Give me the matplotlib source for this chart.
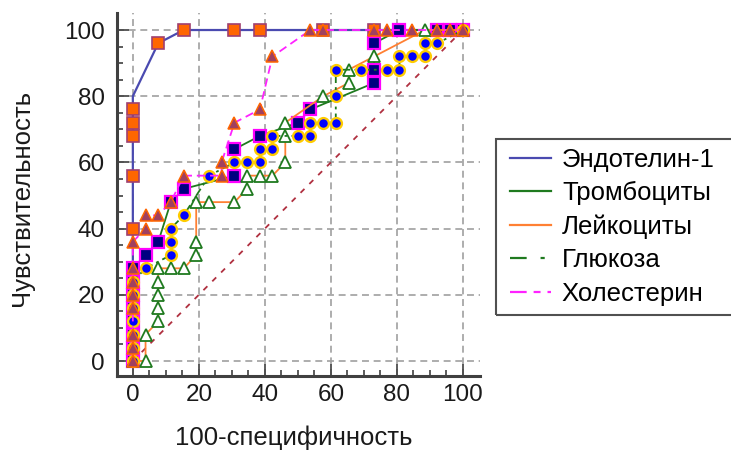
import matplotlib
matplotlib.use("Agg")
import matplotlib.pyplot as plt
from matplotlib.lines import Line2D
from matplotlib.patches import Rectangle
from matplotlib.ticker import FixedLocator

plt.rcParams['font.family'] = ['Liberation Sans', 'DejaVu Sans']
plt.rcParams['lines.scale_dashes'] = False

# ---------------- data (100-specificity, sensitivity) ----------------
series_names = ["Эндотелин-1", "Тромбоциты", "Лейкоциты", "Глюкоза", "Холестерин"]

endo_x = [0, 0, 0, 0, 0, 0, 0, 0, 0, 0, 0, 0, 0, 0, 7.7, 15.4, 30.8, 38.5, 57.7, 73.1, 100]
endo_y = [0, 4, 8, 12, 16, 20, 24, 28, 40, 56, 68, 72, 76, 80, 96, 100, 100, 100, 100, 100, 100]
endo_unmarked = [13]

tromb_x = [0, 0, 0, 0, 0, 0, 0, 0, 3.85, 7.7, 11.5, 15.4, 30.8, 30.8, 38.5, 50, 53.8,
           73.1, 73.1, 73.1, 80.8, 92.3, 96.2, 100]
tromb_y = [0, 4, 8, 12, 16, 20, 24, 28, 32, 36, 48, 52, 56, 64, 68, 72, 76,
           84, 88, 96, 100, 100, 100, 100]

leuk_x = [0, 3.85, 3.85, 7.7, 7.7, 7.7, 7.7, 7.7, 11.5, 15.4, 19.2, 19.2, 19.2, 23.1, 30.8,
          34.6, 34.6, 38.5, 42.3, 46.2, 46.2, 46.2, 57.7, 65.4, 65.4, 73.1, 88.5, 100]
leuk_y = [0, 0, 8, 12, 16, 20, 24, 28, 28, 28, 32, 36, 48, 48, 48,
          52, 56, 56, 56, 60, 68, 72, 80, 84, 88, 92, 100, 100]

gluc_x = [0, 0, 0, 0, 0, 0, 0, 3.85, 11.5, 11.5, 11.5, 15.4, 23.1, 30.8, 34.6, 38.5, 38.5,
          42.3, 42.3, 50, 53.8, 53.8, 57.7, 61.5, 61.5, 61.5, 69.2, 76.9, 80.8, 80.8,
          84.6, 88.5, 88.5, 92.3, 100]
gluc_y = [0, 4, 8, 12, 16, 20, 24, 28, 32, 36, 40, 44, 56, 60, 60, 60, 64,
          64, 68, 68, 68, 72, 72, 72, 80, 88, 88, 88, 88, 92,
          92, 92, 96, 96, 100]

chol_x = [0, 0, 0, 0, 0, 0, 0, 0, 3.85, 3.85, 7.7, 11.5, 15.4, 26.9, 26.9, 30.8, 38.5, 42.3,
          53.8, 57.7, 73.1, 76.9, 84.6, 92.3, 96.2, 100]
chol_y = [0, 4, 8, 16, 20, 24, 28, 36, 40, 44, 44, 48, 56, 56, 60, 72, 76, 92,
          100, 100, 100, 100, 100, 100, 100, 100]

diag_x = [0, 100]
diag_y = [0, 100]

x_ticks = [0, 20, 40, 60, 80, 100]
y_ticks = [0, 20, 40, 60, 80, 100]

# ---------------- figure ----------------
W, H = 731, 454
fig = plt.figure(figsize=(W / 100, H / 100), dpi=100)
ax = fig.add_axes([117 / W, 1 - 376 / H, (480 - 117) / W, (376 - 13) / H])
ax.set_xlim(-4.8, 105.2)
ax.set_ylim(-4.53, 105.14)

for s in ['top', 'right']:
    ax.spines[s].set_visible(False)
for s in ['left', 'bottom']:
    ax.spines[s].set_color('#404040')
    ax.spines[s].set_linewidth(2.2)

ax.set_xticks(x_ticks)
ax.set_yticks(y_ticks)
minor = [v for v in range(0, 101, 5) if v % 20]
ax.xaxis.set_minor_locator(FixedLocator(minor))
ax.yaxis.set_minor_locator(FixedLocator(minor))
ax.tick_params(which='major', direction='in', length=8.5, width=1.2, color='#404040',
               labelsize=17.5, labelcolor='#1a1a1a')
ax.tick_params(axis='x', which='major', pad=6)
ax.tick_params(axis='y', which='major', pad=9)
ax.tick_params(which='minor', direction='in', length=4.5, width=1.2, color='#404040')

ax.grid(True, which='major', color='#a0a0a0', linewidth=1.2, linestyle=(0, (5, 3.4)))
ax.set_axisbelow(True)

# reference diagonal
ax.plot(diag_x, diag_y, color='#b03040', lw=1.3, linestyle=(0, (4, 5)), zorder=2)

endo_marks = [i for i in range(len(endo_x)) if i not in endo_unmarked]
ax.plot(endo_x, endo_y, color='#4a4ab0', lw=1.6, marker='s', markersize=8.5,
        markerfacecolor='#ff6600', markeredgecolor='#a04070', markeredgewidth=1.2,
        markevery=endo_marks, zorder=3)
ax.plot(tromb_x, tromb_y, color='#1f7a1f', lw=1.3, marker='s', markersize=8,
        markerfacecolor='#000080', markeredgecolor='#ff00ff', markeredgewidth=1.6,
        zorder=4)
ax.plot(leuk_x, leuk_y, color='#ff8033', lw=1.3, marker='^', markersize=9,
        markerfacecolor='white', markeredgecolor='#1f7a1f', markeredgewidth=1.3,
        zorder=5)
ax.plot(gluc_x, gluc_y, color='#1f7a1f', lw=1.3, linestyle=(0, (6, 3, 2, 3)),
        marker='o', markersize=7.8, markerfacecolor='#0000ff', markeredgecolor='#ffcc00',
        markeredgewidth=1.7, zorder=6)
ax.plot(chol_x, chol_y, color='#ff22ff', lw=1.3, linestyle=(0, (6, 3.5)),
        marker='^', markersize=9, markerfacecolor='#a04060', markeredgecolor='#ff6600',
        markeredgewidth=1.1, zorder=7)

ax.set_xlabel("100-специфичность", fontsize=18.5, color='#1a1a1a')
ax.set_ylabel("Чувствительность", fontsize=18.5, color='#1a1a1a')
ax.xaxis.set_label_coords((294 - 117) / 363, (376 - 426) / 363)
ax.yaxis.set_label_coords((33.5 - 117) / 363, 0.49)

# legend (lines only)
handles = [
    Line2D([], [], color='#4a4ab0', lw=1.6),
    Line2D([], [], color='#1f7a1f', lw=1.6),
    Line2D([], [], color='#ff8033', lw=1.6),
    Line2D([], [], color='#1f7a1f', lw=1.6, linestyle=(0, (12, 10, 3, 10))),
    Line2D([], [], color='#ff22ff', lw=1.6, linestyle=(0, (12, 5, 5, 5))),
]
fig.legend(handles, series_names, loc='upper left', bbox_to_anchor=(510 / W, 1 - 148 / H),
           frameon=False, fontsize=18.5, handlelength=1.6, handletextpad=0.42,
           labelspacing=0.36, borderpad=0, borderaxespad=0)
fig.add_artist(Rectangle((496 / W, 1 - 315 / H), (745 - 496) / W, (315 - 139) / H,
                         transform=fig.transFigure, fill=False, edgecolor='#505050',
                         linewidth=1.5, clip_on=False))

fig.savefig("out.png", dpi=100)
